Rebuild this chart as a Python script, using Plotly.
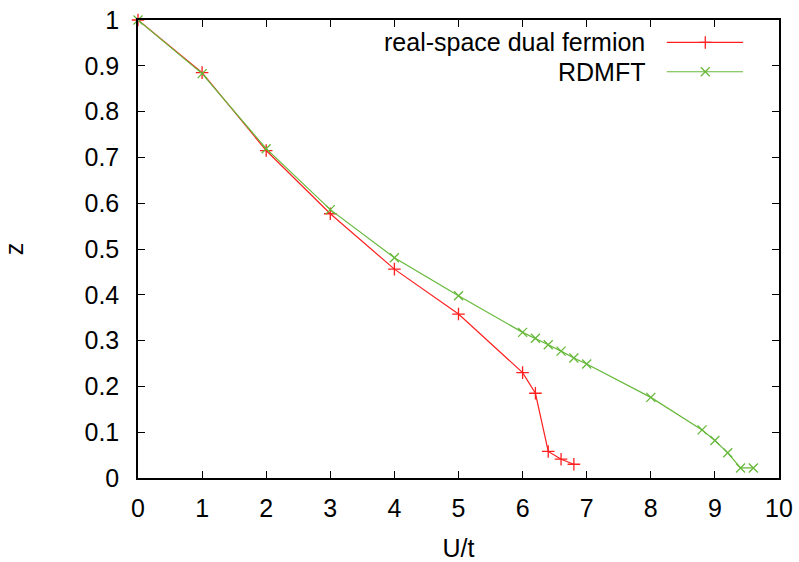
import plotly.graph_objects as go

# Data
u_df = [0, 1, 2, 3, 4, 5, 6, 6.2, 6.4, 6.6, 6.8]
z_df = [1.0, 0.885, 0.715, 0.577, 0.456, 0.358, 0.230, 0.185, 0.058, 0.041, 0.030]

u_rd = [0, 1, 2, 3, 4, 5, 6, 6.2, 6.4, 6.6, 6.8, 7, 8, 8.8, 9, 9.2, 9.4, 9.6]
z_rd = [1.0, 0.883, 0.719, 0.586, 0.481, 0.398, 0.318, 0.305, 0.291, 0.277, 0.262, 0.249,
        0.176, 0.105, 0.082, 0.055, 0.022, 0.022]

names = ["real-space dual fermion", "RDMFT"]
colors = ["#ff1f1f", "#66b83a"]
x_ticks = list(range(0, 11))
y_ticks = [round(0.1 * i, 1) for i in range(0, 11)]

FONT = "Liberation Sans, Arial, Helvetica, sans-serif"
FS = 25

fig = go.Figure()
fig.add_trace(go.Scatter(x=u_df, y=z_df, mode="lines+markers", name=names[0],
                         line=dict(color=colors[0], width=1.2),
                         marker=dict(symbol="cross-thin", size=9,
                                     line=dict(color=colors[0], width=1.3)),
                         showlegend=False, cliponaxis=False))
fig.add_trace(go.Scatter(x=u_rd, y=z_rd, mode="lines+markers", name=names[1],
                         line=dict(color=colors[1], width=1.2),
                         marker=dict(symbol="x-thin", size=9,
                                     line=dict(color=colors[1], width=1.3)),
                         showlegend=False, cliponaxis=False))

# Custom gnuplot-style legend (text left, sample on the right) on overlay axes
leg_y = [0.951, 0.887]
for i, (nm, c, sym) in enumerate(zip(names, colors, ["cross-thin", "x-thin"])):
    fig.add_trace(go.Scatter(x=[0.825, 0.944], y=[leg_y[i], leg_y[i]], mode="lines",
                             line=dict(color=c, width=1.2), xaxis="x2", yaxis="y2",
                             showlegend=False, hoverinfo="skip"))
    fig.add_trace(go.Scatter(x=[0.885], y=[leg_y[i]], mode="markers",
                             marker=dict(symbol=sym, size=9, line=dict(color=c, width=1.3)),
                             xaxis="x2", yaxis="y2", showlegend=False, hoverinfo="skip"))
    fig.add_annotation(x=0.794, y=leg_y[i], xref="x2", yref="y2", text=nm,
                       showarrow=False, xanchor="right", yanchor="middle",
                       font=dict(family=FONT, size=FS, color="black"))

axis_common = dict(showgrid=False, zeroline=False, showline=True, linecolor="black",
                   linewidth=1.5, mirror="ticks", ticks="inside", ticklen=7,
                   tickwidth=1.2, tickcolor="black", automargin=False,
                   ticklabeloverflow="allow",
                   tickfont=dict(family=FONT, size=FS, color="black"))

fig.update_layout(
    width=799, height=562,
    margin=dict(l=138, r=20, t=20, b=84),
    paper_bgcolor="white", plot_bgcolor="white",
    xaxis=dict(range=[0, 10], tickvals=x_ticks, ticktext=[str(v) for v in x_ticks],
               title=dict(text="U/t", font=dict(family=FONT, size=FS, color="black"),
                          standoff=24),
               ticklabelstandoff=7,
               **axis_common),
    yaxis=dict(range=[0, 1], tickvals=y_ticks, ticktext=[("%g" % v) for v in y_ticks],
               title=dict(text="z", font=dict(family=FONT, size=FS, color="black"),
                          standoff=54),
               ticklabelstandoff=12,
               **axis_common),
    xaxis2=dict(range=[0, 1], overlaying="x", visible=False, fixedrange=True),
    yaxis2=dict(range=[0, 1], overlaying="y", visible=False, fixedrange=True),
)

fig.write_html("out.html", config={"displayModeBar": False},
               post_script="document.body.style.margin='0';document.body.style.overflow='hidden';")
